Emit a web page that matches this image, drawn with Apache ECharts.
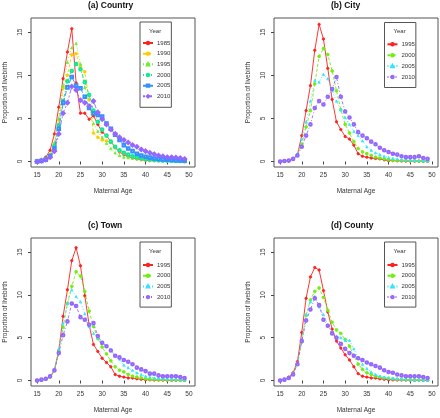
<!DOCTYPE html>
<html><head><meta charset="utf-8">
<script src="https://cdn.jsdelivr.net/npm/echarts@6/dist/echarts.min.js"></script>
<style>html,body{margin:0;padding:0;background:#fff}#c{width:440px;height:418px}</style>
</head><body><div id="c"></div>
<script>
const ages = [15,16,17,18,19,20,21,22,23,24,25,26,27,28,29,30,31,32,33,34,35,36,37,38,39,40,41,42,43,44,45,46,47,48,49];
const xTicks = [15,20,25,30,35,40,45,50];
const yTicks = [0,5,10,15];
const panelTitles = ['(a) Country','(b) City','(c) Town','(d) County'];
const yearsA = ['1985','1990','1995','2000','2005','2010'];
const yearsB = ['1995','2000','2005','2010'];

const country1985 = [0.0,0.1,0.5,1.3,3.2,6.3,9.6,12.7,15.4,9.1,5.6,5.6,4.9,5.3,4.3,3.4,3.0,2.3,1.6,1.1,0.8,0.6,0.4,0.3,0.2,0.15,0.1,0.1,0.1,0.08,0.06,0.05,0.04,0.03,0.02];
const country1990 = [0.0,0.1,0.3,0.8,2.0,4.8,8.5,10.0,12.4,12.5,11.0,10.4,7.2,3.3,2.8,2.5,2.4,2.2,1.6,1.2,0.9,0.7,0.5,0.4,0.3,0.25,0.2,0.15,0.12,0.1,0.08,0.06,0.05,0.04,0.03];
const country1995 = [0.0,0.1,0.3,0.8,2.2,5.0,8.8,11.5,13.2,13.7,11.3,8.6,6.5,4.4,3.5,2.8,2.1,1.5,1.0,0.7,0.5,0.45,0.4,0.3,0.25,0.2,0.15,0.12,0.1,0.08,0.07,0.06,0.05,0.04,0.03];
const country2000 = [0.0,0.1,0.3,0.7,1.8,4.2,7.0,9.3,10.5,11.3,10.7,9.2,7.7,5.9,4.6,3.7,3.0,2.3,1.7,1.3,1.0,0.8,0.6,0.5,0.4,0.3,0.25,0.2,0.15,0.12,0.1,0.08,0.06,0.05,0.04];
const country2005 = [0.0,0.05,0.2,0.6,1.5,3.8,6.8,8.6,9.8,8.8,8.5,7.5,6.2,5.6,5.4,5.2,4.4,3.8,3.1,2.5,1.9,1.5,1.2,0.9,0.7,0.55,0.45,0.35,0.3,0.25,0.2,0.18,0.15,0.12,0.1];
const country2010 = [0.0,0.1,0.2,0.5,1.2,3.2,5.6,6.8,8.7,8.3,7.1,6.8,6.4,7.0,5.7,4.9,4.3,3.7,3.2,2.8,2.5,2.2,1.9,1.7,1.4,1.2,1.0,0.85,0.7,0.6,0.5,0.5,0.45,0.4,0.3];

const city1995 = [0.0,0.05,0.1,0.3,0.8,3.0,5.9,8.8,12.9,15.9,14.2,10.8,7.2,4.6,3.7,2.9,2.6,1.9,0.9,0.6,0.5,0.4,0.35,0.3,0.2,0.1,0.1,0.08,0.06,0.05,0.05,0.04,0.03,0.02,0.02];
const city2000 = [0.0,0.05,0.1,0.3,0.7,2.0,4.0,5.9,9.0,12.2,13.1,12.4,10.5,8.2,6.0,4.3,3.3,2.3,1.5,1.1,0.9,0.7,0.5,0.4,0.3,0.2,0.15,0.12,0.1,0.08,0.07,0.06,0.05,0.04,0.03];
const city2005 = [0.0,0.05,0.1,0.3,0.9,2.6,4.6,7.0,9.4,9.2,10.1,9.6,8.2,7.0,6.0,5.1,4.3,3.5,3.0,2.4,1.7,1.3,1.0,0.8,0.6,0.45,0.35,0.3,0.2,0.2,0.15,0.12,0.1,0.08,0.06];
const city2010 = [0.0,0.05,0.1,0.3,0.7,1.7,3.0,4.3,6.2,7.0,6.6,7.5,8.4,9.8,7.5,5.8,5.1,4.3,3.4,3.0,2.7,2.3,2.0,1.6,1.3,1.1,0.9,0.8,0.6,0.5,0.5,0.5,0.6,0.4,0.3];

const town1995 = [0.0,0.05,0.15,0.4,1.2,3.5,7.5,10.6,14.0,15.5,13.4,9.9,6.5,4.2,3.4,2.6,2.1,1.6,0.7,0.5,0.4,0.3,0.3,0.2,0.15,0.1,0.08,0.06,0.05,0.05,0.04,0.03,0.03,0.02,0.02];
const town2000 = [0.0,0.05,0.15,0.4,1.1,3.4,6.2,9.0,11.0,12.7,12.2,10.4,8.1,6.3,4.9,3.9,3.1,2.3,1.6,1.2,1.0,0.7,0.5,0.4,0.3,0.2,0.15,0.12,0.1,0.08,0.07,0.06,0.05,0.04,0.03];
const town2005 = [0.0,0.05,0.2,0.5,1.3,3.7,6.7,9.0,10.6,9.8,9.2,7.8,6.3,5.5,5.0,4.5,4.1,3.6,2.9,2.5,1.8,1.5,1.2,0.9,0.7,0.5,0.4,0.3,0.25,0.2,0.2,0.15,0.12,0.1,0.08];
const town2010 = [0.0,0.1,0.2,0.5,1.2,3.2,5.3,6.9,9.0,8.7,7.4,7.1,6.5,6.7,5.2,4.4,4.0,3.5,2.9,2.7,2.4,2.2,1.9,1.5,1.3,1.1,0.8,0.8,0.6,0.5,0.5,0.5,0.5,0.4,0.3];

const county1995 = [0.0,0.1,0.4,0.9,2.2,5.6,9.6,12.1,13.2,12.9,10.5,8.0,6.0,4.6,3.8,3.0,2.4,1.6,0.8,0.5,0.4,0.3,0.3,0.2,0.15,0.1,0.08,0.06,0.05,0.05,0.04,0.03,0.03,0.02,0.02];
const county2000 = [0.0,0.1,0.3,0.8,2.0,4.5,7.6,9.4,10.4,10.8,9.7,8.2,6.8,5.9,5.5,4.8,4.0,2.9,1.9,1.3,0.9,0.7,0.5,0.4,0.3,0.25,0.2,0.15,0.12,0.1,0.08,0.07,0.06,0.05,0.04];
const county2005 = [0.0,0.1,0.3,0.8,1.9,4.8,7.7,9.2,9.8,8.6,7.7,6.5,5.7,5.2,5.0,4.7,4.7,3.7,2.7,1.9,1.4,1.0,0.7,0.5,0.4,0.3,0.25,0.2,0.15,0.12,0.1,0.08,0.07,0.06,0.05];
const county2010 = [0.0,0.1,0.3,0.7,1.9,4.6,7.0,8.3,9.6,8.8,7.1,6.4,5.5,5.0,4.3,3.7,3.2,2.9,2.6,2.4,2.1,1.9,1.7,1.5,1.2,1.0,0.9,0.7,0.6,0.5,0.5,0.5,0.5,0.4,0.3];

const panelData = [
  [country1985, country1990, country1995, country2000, country2005, country2010],
  [city1995, city2000, city2005, city2010],
  [town1995, town2000, town2005, town2010],
  [county1995, county2000, county2005, county2010]
];
const panelYears = [yearsA, yearsB, yearsB, yearsB];

const stylesA = [
  {color:'#ff2020', symbol:'circle', size:2.4, dash:'solid'},
  {color:'#ffcc00', symbol:'circle', size:2.8, dash:[3,2]},
  {color:'#70ee30', symbol:'triangle', size:2.4, dash:[1,2]},
  {color:'#10e890', symbol:'emptyCircle', size:2.6, dash:[1,2,3,2]},
  {color:'#3390ff', symbol:'emptyRect', size:2.6, dash:[5,2]},
  {color:'#9466ff', symbol:'emptyDiamond', size:3.2, dash:[2,2,5,2]}
];
const stylesB = [
  {color:'#ff2020', symbol:'circle', size:2.4, dash:'solid'},
  {color:'#70ee10', symbol:'circle', size:2.8, dash:[3,2]},
  {color:'#30e6ff', symbol:'triangle', size:2.2, dash:[1,2]},
  {color:'#9466ff', symbol:'emptyCircle', size:2.6, dash:[1,2,3,2]}
];
const panelStyles = [stylesA, stylesB, stylesB, stylesB];

const grids = [
  {left:31, top:18, width:164, height:149},
  {left:274, top:18, width:164, height:149},
  {left:31, top:238, width:164, height:148},
  {left:274, top:238, width:164, height:148}
];
const legendPos = [
  {left:140, top:22, padding:[17.5,1,7.5,2], gap:3.66},
  {left:384.5, top:22.5, padding:[18.3,1,7,2], gap:3.9},
  {left:140, top:242, padding:[19.5,1,6.5,2], gap:3.7},
  {left:384.5, top:242, padding:[19.5,1,6.5,2], gap:3.7}
];
const FONT = 'Liberation Sans, Arial, sans-serif';
const AX = '#444';

const option = {
  backgroundColor:'#fff',
  animation:false,
  grid: grids.map(g => Object.assign({show:true, borderColor:'#555', borderWidth:1, backgroundColor:'transparent'}, g)),
  xAxis: grids.map((g,i) => ({
    type:'value', gridIndex:i, min:13.6, max:51.4,
    name:'Maternal Age', nameLocation:'middle', nameGap:21,
    nameTextStyle:{fontSize:6.5, color:'#333', fontFamily:FONT},
    axisLine:{show:false},
    splitLine:{show:false},
    axisTick:{show:true, length:3, lineStyle:{color:AX}, customValues:xTicks},
    axisLabel:{show:true, fontSize:6.5, color:'#333', fontFamily:FONT, margin:5, customValues:xTicks}
  })),
  yAxis: grids.map((g,i) => ({
    type:'value', gridIndex:i, min:-0.64, max:16.64,
    name:'Proportion of livebirth', nameLocation:'middle', nameGap:22,
    nameTextStyle:{fontSize:6.5, color:'#333', fontFamily:FONT},
    axisLine:{show:false},
    splitLine:{show:false},
    axisTick:{show:true, length:3, lineStyle:{color:AX}, customValues:yTicks},
    axisLabel:{show:true, rotate:90, fontSize:6.5, color:'#333', fontFamily:FONT, margin:7, customValues:yTicks}
  })),
  legend: legendPos.map((l,i) => ({
    orient:'vertical', left:l.left, top:l.top, padding:l.padding,
    itemGap:l.gap, itemWidth:10, itemHeight:3,
    borderColor:'#555', borderWidth:1, backgroundColor:'#fff',
    textStyle:{fontSize:6, lineHeight:7, color:'#333', fontFamily:FONT, padding:[0,0,0,-1]},
    data: panelYears[i].map(y => 'p'+i+'|'+y),
    formatter: n => n.split('|')[1],
    selectedMode:false
  })),
  series: [],
  graphic: []
};

panelData.forEach((arrs,i) => {
  arrs.forEach((vals,k) => {
    const st = panelStyles[i][k];
    option.series.push({
      type:'line', name:'p'+i+'|'+panelYears[i][k],
      xAxisIndex:i, yAxisIndex:i,
      data: ages.map((a,j) => [a, vals[j]]),
      symbol: st.symbol, symbolSize: st.size, showSymbol:true,
      lineStyle:{color:st.color, width:0.9, type:st.dash},
      itemStyle:{color:st.color, borderColor:st.color, borderWidth:0.8},
      z: 2+k
    });
  });
  const g = grids[i];
  option.graphic.push({
    type:'text', left: g.left + g.width/2 - 25, top: g.top - 17,
    style:{text:panelTitles[i], fontSize:8.5, fontWeight:'bold', fontFamily:FONT, fill:'#111', width:50, align:'center'}
  });
  const l = legendPos[i];
  option.graphic.push({
    type:'text', left: l.left + 9, top: l.top + 6, z:100,
    style:{text:'Year', fontSize:6, fontFamily:FONT, fill:'#333'}
  });
});

const chart = echarts.init(document.getElementById('c'), null, {renderer:'canvas'});
chart.setOption(option);
</script>
</body></html>
